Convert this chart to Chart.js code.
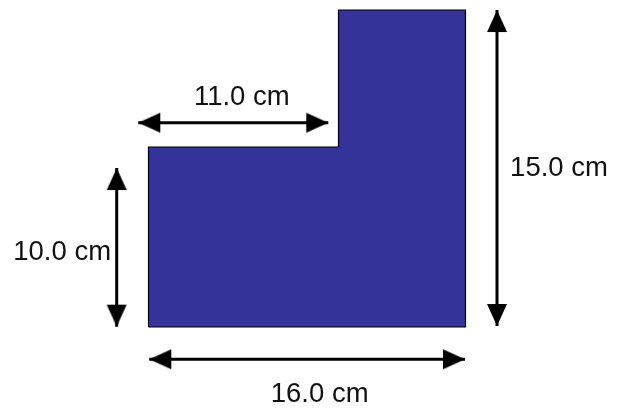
<!DOCTYPE html>
<html>
<head>
<meta charset="utf-8">
<script src="https://cdn.jsdelivr.net/npm/chart.js@4"></script>
<style>
html,body{margin:0;padding:0;background:#fff;}
#wrap{width:620px;height:409px;}
</style>
</head>
<body>
<div id="wrap"><canvas id="c"></canvas></div>
<script>
// L-shape outline in drawing units (not to scale, as in the original sketch)
const shapeX = [0, 0, 9.59, 9.59, 16, 16, 0];
const shapeY = [0, 9.085, 9.085, 16, 16, 0, 0];
// short inner edge line at the step
const notchX = [9.59, 9.59];
const notchY = [9.085, 8.08];
// dimension arrows
const dimLabels = ['11.0 cm', '10.0 cm', '15.0 cm', '16.0 cm'];
const dimX1 = [-0.515, -1.605, 17.59, 0.04];
const dimY1 = [10.31, 8.025, 16.0, -1.63];
const dimX2 = [9.075, -1.605, 17.59, 15.975];
const dimY2 = [10.31, 0.015, 0.05, -1.63];

// label offsets (pixels) from arrow midpoints
const labelOffsets = [[8.5, -25], [-54.5, 5], [62, 0], [12.5, 35]];

// arrowhead glyph: tip at canvas centre, body extending downward (pointing up)
function makeArrowHead() {
  const cv = document.createElement('canvas');
  cv.width = 50; cv.height = 50;
  const g = cv.getContext('2d');
  g.fillStyle = '#000';
  g.beginPath();
  g.moveTo(25, 25);
  g.lineTo(35, 47);
  g.lineTo(15, 47);
  g.closePath();
  g.fill();
  return cv;
}
const arrowHead = makeArrowHead();

function rot(dx, dy) { return Math.atan2(dx, dy) * 180 / Math.PI; }

const datasets = [];
datasets.push({
  data: shapeX.map((x, i) => ({x: x, y: shapeY[i]})),
  showLine: true,
  fill: 'shape',
  backgroundColor: '#333399',
  borderColor: '#000',
  borderWidth: 1.2,
  pointRadius: 0,
  clip: false,
  tension: 0
});
datasets.push({
  data: notchX.map((x, i) => ({x: x, y: notchY[i]})),
  showLine: true,
  fill: false,
  borderColor: '#000',
  borderWidth: 1.4,
  pointRadius: 0,
  clip: false
});
dimLabels.forEach((lab, i) => {
  const dx = dimX2[i] - dimX1[i], dy = dimY2[i] - dimY1[i];
  datasets.push({
    label: lab,
    data: [{x: dimX1[i], y: dimY1[i]}, {x: dimX2[i], y: dimY2[i]}],
    showLine: true,
    fill: false,
    borderColor: '#000',
    borderWidth: 3,
    pointStyle: arrowHead,
    pointRotation: [rot(-dx, -dy), rot(dx, dy)],
    pointRadius: 3,
    clip: false
  });
});

const dimLabelPlugin = {
  id: 'dimLabels',
  afterDatasetsDraw(chart) {
    const ctx = chart.ctx, xs = chart.scales.x, ys = chart.scales.y;
    ctx.save();
    ctx.font = '27.5px "Liberation Sans", Arial, sans-serif';
    ctx.fillStyle = '#111';
    ctx.textAlign = 'center';
    ctx.textBaseline = 'middle';
    dimLabels.forEach((lab, i) => {
      const mx = xs.getPixelForValue((dimX1[i] + dimX2[i]) / 2);
      const my = ys.getPixelForValue((dimY1[i] + dimY2[i]) / 2);
      ctx.fillText(lab, mx + labelOffsets[i][0], my + labelOffsets[i][1]);
    });
    ctx.restore();
  }
};

new Chart(document.getElementById('c'), {
  type: 'scatter',
  data: { datasets: datasets },
  options: {
    responsive: true,
    maintainAspectRatio: false,
    animation: false,
    events: [],
    layout: { padding: 0, autoPadding: false },
    plugins: { legend: { display: false }, tooltip: { enabled: false } },
    scales: {
      x: { type: 'linear', min: -7.495, max: 23.798, display: false },
      y: { type: 'linear', min: -4.139, max: 16.505, display: false }
    }
  },
  plugins: [dimLabelPlugin]
});
</script>
</body>
</html>
